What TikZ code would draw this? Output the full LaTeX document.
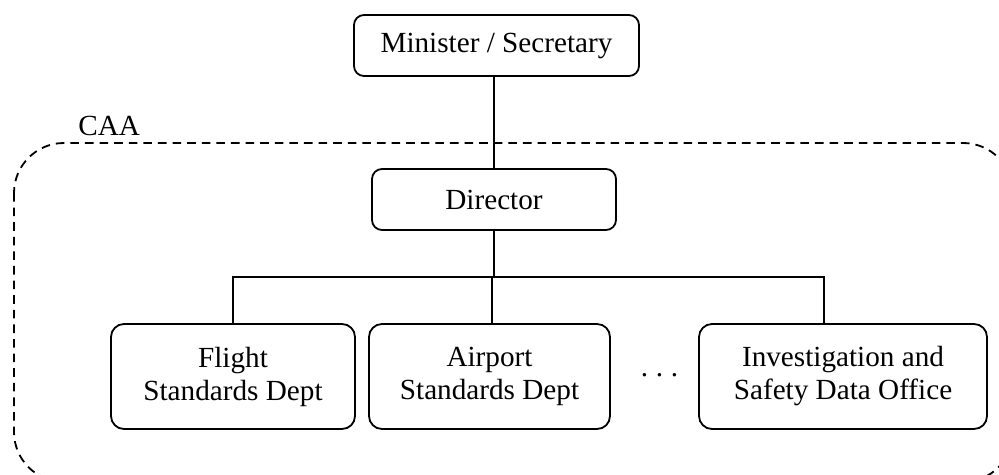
\documentclass[tikz,border=0pt]{standalone}
\usepackage{fontspec}
\setmainfont{Liberation Serif}
\begin{document}
\begin{tikzpicture}[x=0.5pt,y=-0.5pt,
  every node/.style={font=\fontsize{14.6pt}{16.5pt}\selectfont},
  topbox/.style={draw,line width=0.9pt,rounded corners=5pt,align=center,inner sep=0pt,minimum height=30.5pt},
  deptbox/.style={draw,line width=0.9pt,rounded corners=6.5pt,align=center,inner sep=0pt,minimum height=52.5pt},
  link/.style={line width=0.9pt},
  caa/.style={line width=0.9pt,dash pattern=on 4.3pt off 3pt,rounded corners=25pt}]
\useasboundingbox (0,0) rectangle (999,475);
\begin{scope}
\clip (0,0) rectangle (999,475);
\draw[caa] (14,143) rectangle (1013,482);
\end{scope}
\node[anchor=base west,inner sep=0pt] (caa) at (78,136) {CAA};
\node[topbox,minimum width=142.5pt] (min) at (496.5,45.5) {Minister / Secretary};
\node[topbox,minimum width=122pt] (dir) at (494,199.5) {Director};
\node[deptbox,minimum width=122pt] (fl) at (233,376.5) {Flight\\Standards Dept};
\node[deptbox,minimum width=120.5pt] (ap) at (489.5,376.5) {Airport\\Standards Dept};
\node[deptbox,minimum width=144pt] (inv) at (843,376.5) {Investigation and\\Safety Data Office};
\node[anchor=base,inner sep=0pt] (dots) at (659.5,376) {.\hspace{3.9pt}.\hspace{3.9pt}.};
\coordinate (bus) at (494,277);
\coordinate (busA) at (492,277);
\coordinate (busR) at (824,277);
\draw[link] (dir.north |- min.south) -- (dir.north);
\draw[link] (dir.south) -- (bus);
\draw[link] (fl.north) -- (fl.north |- bus) -- (busR) -- (busR |- inv.north);
\draw[link] (busA) -- (busA |- ap.north);
\end{tikzpicture}
\end{document}
